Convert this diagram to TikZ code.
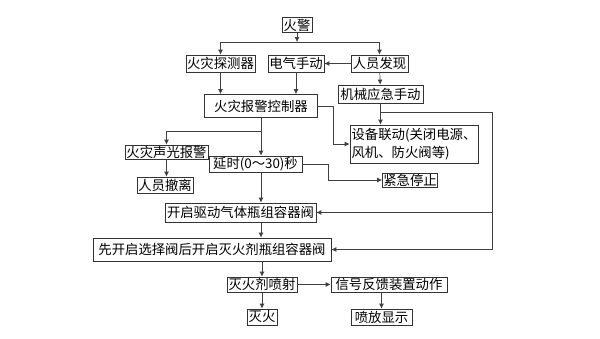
\documentclass[tikz,border=0pt]{standalone}
\usepackage{fontspec}
\newfontfamily\cjk{Noto Sans CJK SC}
\usepackage{tikz}
\usetikzlibrary{arrows.meta,positioning,calc}

\newcommand\pxu{0.025cm}

\begin{document}
\begin{tikzpicture}[
  x=0.025cm, y=-0.025cm,
  box/.style={draw=black!80,line width=0.6pt,inner sep=0.5pt,
    font=\cjk\fontsize{9.5}{12.5}\selectfont},
  flow/.style={-{Latex[length=3.5pt,width=3.5pt]},black!75,line width=0.5pt},
  wire/.style={black!75,line width=0.5pt}]
\useasboundingbox (0,0) rectangle (600,338);
% Alarm sources
\node[box,minimum width=30*\pxu,minimum height=15*\pxu] (alarm) at (297,25) {火警};
\node[box,minimum width=69*\pxu,minimum height=17*\pxu] (detector) at (220.5,63.5) {火灾探测器};
\node[box,minimum width=56*\pxu,minimum height=17*\pxu] (elecman) at (296,63.5) {电气手动};
\node[box,minimum width=57*\pxu,minimum height=17*\pxu] (person) at (379.5,63.5) {人员发现};
\node[box,minimum width=85*\pxu,minimum height=18*\pxu] (mechman) at (380.5,94) {机械应急手动};
% Control panel and its outputs
\node[box,minimum width=113*\pxu,minimum height=23*\pxu] (panel) at (261,106) {火灾报警控制器};
\node[box,minimum width=128*\pxu,minimum height=38*\pxu,align=left] (linkage) at (414,144)
  {设备联动(关闭电源、\\风机、防火阀等)};
\node[box,minimum width=83*\pxu,minimum height=14*\pxu] (sound) at (166.5,152) {火灾声光报警};
\node[box,minimum width=93*\pxu,minimum height=16*\pxu] (delay) at (255.5,164) {延时(0～30)秒};
\node[box,minimum width=56*\pxu,minimum height=16*\pxu] (evac) at (165,185) {人员撤离};
\node[box,minimum width=54*\pxu,minimum height=14*\pxu] (estop) at (410,180) {紧急停止};
% Release sequence
\node[box,minimum width=151*\pxu,minimum height=19*\pxu] (drive) at (240.5,212.5) {开启驱动气体瓶组容器阀};
\node[box,minimum width=238*\pxu,minimum height=23*\pxu] (open) at (212,249.5) {先开启选择阀后开启灭火剂瓶组容器阀};
\node[box,minimum width=70*\pxu,minimum height=15*\pxu] (spray) at (262,284.5) {灭火剂喷射};
\node[box,minimum width=116*\pxu,minimum height=15*\pxu] (feedback) at (389,284.5) {信号反馈装置动作};
\node[box,minimum width=30*\pxu,minimum height=16*\pxu] (out) at (262,317) {灭火};
\node[box,minimum width=61*\pxu,minimum height=16*\pxu] (display) at (381.5,317) {喷放显示};
% Junction points
\coordinate (top) at (297,42);
\coordinate (bus) at (492,112);
\coordinate (split) at (261,131);
% Connectors
\draw[flow] (alarm) -- (top);
\draw[flow] (top) -| (detector);
\draw[flow] (top) -| (person);
\draw[flow] (person) -- (elecman);
\draw[flow] (person) -- (mechman);
\draw[flow] (detector) -- (detector |- panel.north);
\draw[flow] (elecman) -- (elecman |- panel.north);
\draw[flow] (panel.east) -- ++(15,0) |- (linkage.west);
\draw[flow] (mechman) -- (mechman |- linkage.north);
\draw[wire] (mechman.south |- bus) -- (bus);
\draw[flow] (bus) |- (open.east);
\draw[flow] (bus |- drive.east) -- (drive.east);
\draw[flow] (panel.south) -- (panel.south |- delay.north);
\draw[flow] (split) -| (sound);
\draw[flow] (sound) -- (sound |- evac.north);
\draw[flow] (delay.east) -- ++(26,0) |- (estop.west);
\draw[flow] (delay.south -| panel.south) -- (panel.south |- drive.north);
\draw[flow] (drive.south -| panel.south) -- (panel.south |- open.north);
\draw[flow] (open.south -| spray.north) -- (spray);
\draw[flow] (spray) -- (feedback);
\draw[flow] (spray) -- (out);
\draw[flow] (feedback.south -| display.north) -- (display);
\end{tikzpicture}
\end{document}
